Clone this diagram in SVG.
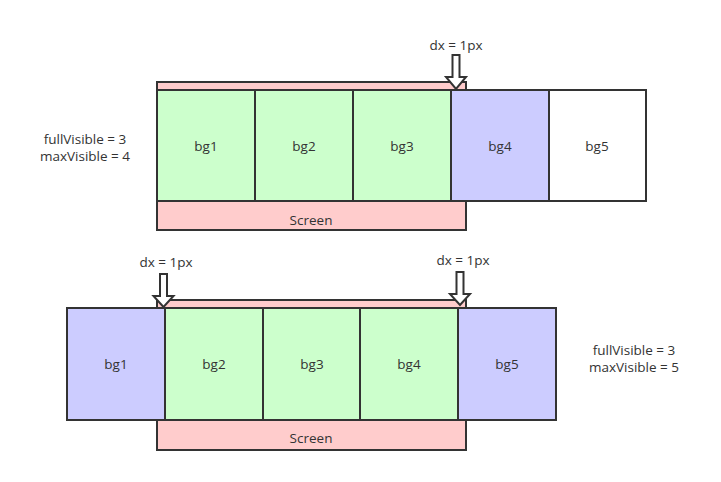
<svg xmlns="http://www.w3.org/2000/svg" width="721" height="482" viewBox="0 0 721 482">
<style>
text{font-family:"Open Sans","Noto Sans","Liberation Sans",sans-serif;font-size:13.5px;fill:#333;text-anchor:middle;dominant-baseline:central}
.g{fill:#CCFFCC;stroke:#333;stroke-width:2}
.b{fill:#CCCCFF;stroke:#333;stroke-width:2}
.w{fill:#FFFFFF;stroke:#333;stroke-width:2}
.s{fill:#FFCCCC;stroke:#333;stroke-width:2}
.a{fill:#FFFFFF;stroke:#333;stroke-width:2;stroke-linejoin:miter}
</style>
<rect width="721" height="482" fill="#fff"/>
<!-- top diagram -->
<g id="screen1"><rect class="s" x="157" y="82" width="309" height="148"/><text x="311" y="220">Screen</text></g>
<g id="t-bg1"><rect class="g" x="157" y="90" width="98" height="111"/><text x="206" y="146">bg1</text></g>
<g id="t-bg2"><rect class="g" x="255" y="90" width="98" height="111"/><text x="304" y="146">bg2</text></g>
<g id="t-bg3"><rect class="g" x="353" y="90" width="98" height="111"/><text x="402" y="146">bg3</text></g>
<g id="t-bg4"><rect class="b" x="451" y="90" width="98" height="111"/><text x="500" y="146">bg4</text></g>
<g id="t-bg5"><rect class="w" x="549" y="90" width="97" height="111"/><text x="597" y="146">bg5</text></g>
<g id="t-info"><text x="85" y="139">fullVisible = 3</text><text x="85" y="156">maxVisible = 4</text></g>
<g id="t-dx"><text x="456" y="45">dx = 1px</text>
<path class="a" d="M452.5,55 H459.5 V77 H466 L456,89 L446,77 H452.5 Z"/></g>
<!-- bottom diagram -->
<g id="screen2"><rect class="s" x="157" y="300" width="309" height="150"/><text x="311" y="438">Screen</text></g>
<g id="b-bg1"><rect class="b" x="67" y="308" width="98" height="112"/><text x="116" y="364">bg1</text></g>
<g id="b-bg2"><rect class="g" x="165" y="308" width="98" height="112"/><text x="214" y="364">bg2</text></g>
<g id="b-bg3"><rect class="g" x="263" y="308" width="97" height="112"/><text x="312" y="364">bg3</text></g>
<g id="b-bg4"><rect class="g" x="360" y="308" width="98" height="112"/><text x="409" y="364">bg4</text></g>
<g id="b-bg5"><rect class="b" x="458" y="308" width="98" height="112"/><text x="507" y="364">bg5</text></g>
<g id="b-info"><text x="634" y="350">fullVisible = 3</text><text x="634" y="367">maxVisible = 5</text></g>
<g id="b-dx1"><text x="166" y="262">dx = 1px</text>
<path class="a" d="M160,274 H167 V296 H173.5 L163.5,307 L153.5,296 H160 Z"/></g>
<g id="b-dx2"><text x="463" y="260">dx = 1px</text>
<path class="a" d="M456.5,272 H463.5 V294 H470 L460,305 L450,294 H456.5 Z"/></g>
</svg>
